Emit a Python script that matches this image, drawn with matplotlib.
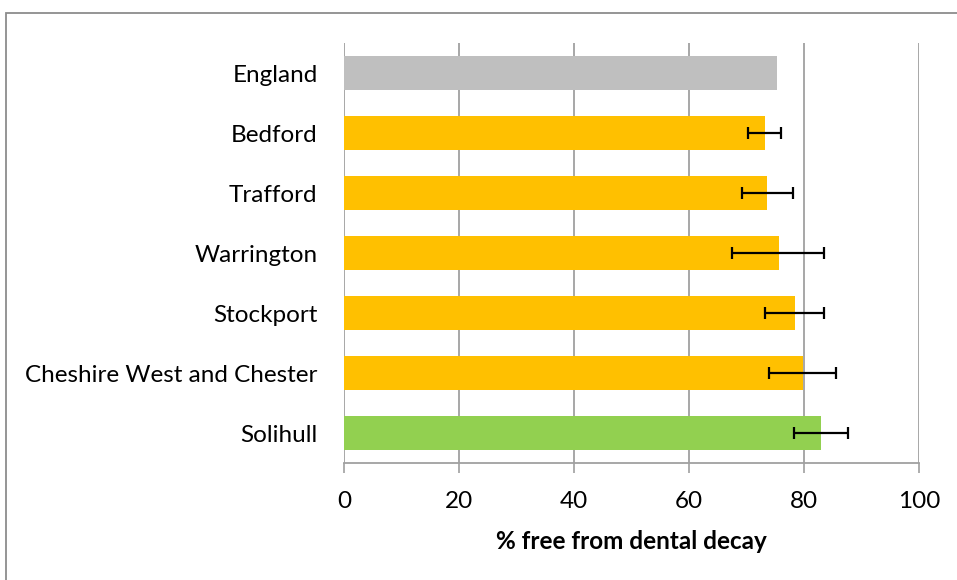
import matplotlib.pyplot as plt
from matplotlib.patches import Rectangle

# Data (top to bottom as drawn)
areas = ["England", "Bedford", "Trafford", "Warrington", "Stockport",
         "Cheshire West and Chester", "Solihull"]
pct_free = [75.3, 73.2, 73.6, 75.6, 78.4, 79.8, 82.9]
ci_low = [None, 70.2, 69.2, 67.5, 73.2, 73.9, 78.2]
ci_high = [None, 76.0, 78.1, 83.5, 83.5, 85.5, 87.7]
colours = ["#BFBFBF", "#FFC000", "#FFC000", "#FFC000", "#FFC000", "#FFC000", "#92D050"]

plt.rcParams["font.family"] = ["Lato", "DejaVu Sans"]

fig = plt.figure(figsize=(9.57, 5.80), dpi=100)
ax = fig.add_axes([344 / 957, 117 / 580, 575 / 957, 420 / 580])

ypos = list(range(len(areas)))
ax.barh(ypos, pct_free, height=0.58, color=colours, zorder=2)

# Error bars (skip England)
for y, v, lo, hi in zip(ypos, pct_free, ci_low, ci_high):
    if lo is None:
        continue
    ax.errorbar(v, y, xerr=[[v - lo], [hi - v]], fmt="none", ecolor="black",
                elinewidth=1.6, capsize=4.3, capthick=1.6, zorder=3)

ax.set_xlim(0, 100)
ax.set_ylim(len(areas) - 0.5, -0.5)
ax.set_xticks(range(0, 101, 20))
ax.set_yticks(ypos)
ax.set_yticklabels(areas, fontsize=17.5)
ax.tick_params(axis="x", labelsize=17.5, length=7, color="#A0A0A0", width=1.2, pad=13)
ax.tick_params(axis="y", length=0, pad=19)

ax.grid(axis="x", color="#A0A0A0", linewidth=1.3, zorder=0)
ax.set_axisbelow(True)
for side in ["top", "right", "left"]:
    ax.spines[side].set_visible(False)
ax.spines["bottom"].set_color("#A0A0A0")
ax.spines["bottom"].set_linewidth(1.3)

ax.set_xlabel("% free from dental decay", fontsize=17.5, fontweight="bold", labelpad=13)

# Chart border
fig.patches.append(Rectangle((6 / 957, -0.1), 1.2, (580 - 13) / 580 + 0.1,
                             transform=fig.transFigure, fill=False,
                             edgecolor="#8C8C8C", linewidth=1.3))

plt.savefig("out.png", dpi=100)
